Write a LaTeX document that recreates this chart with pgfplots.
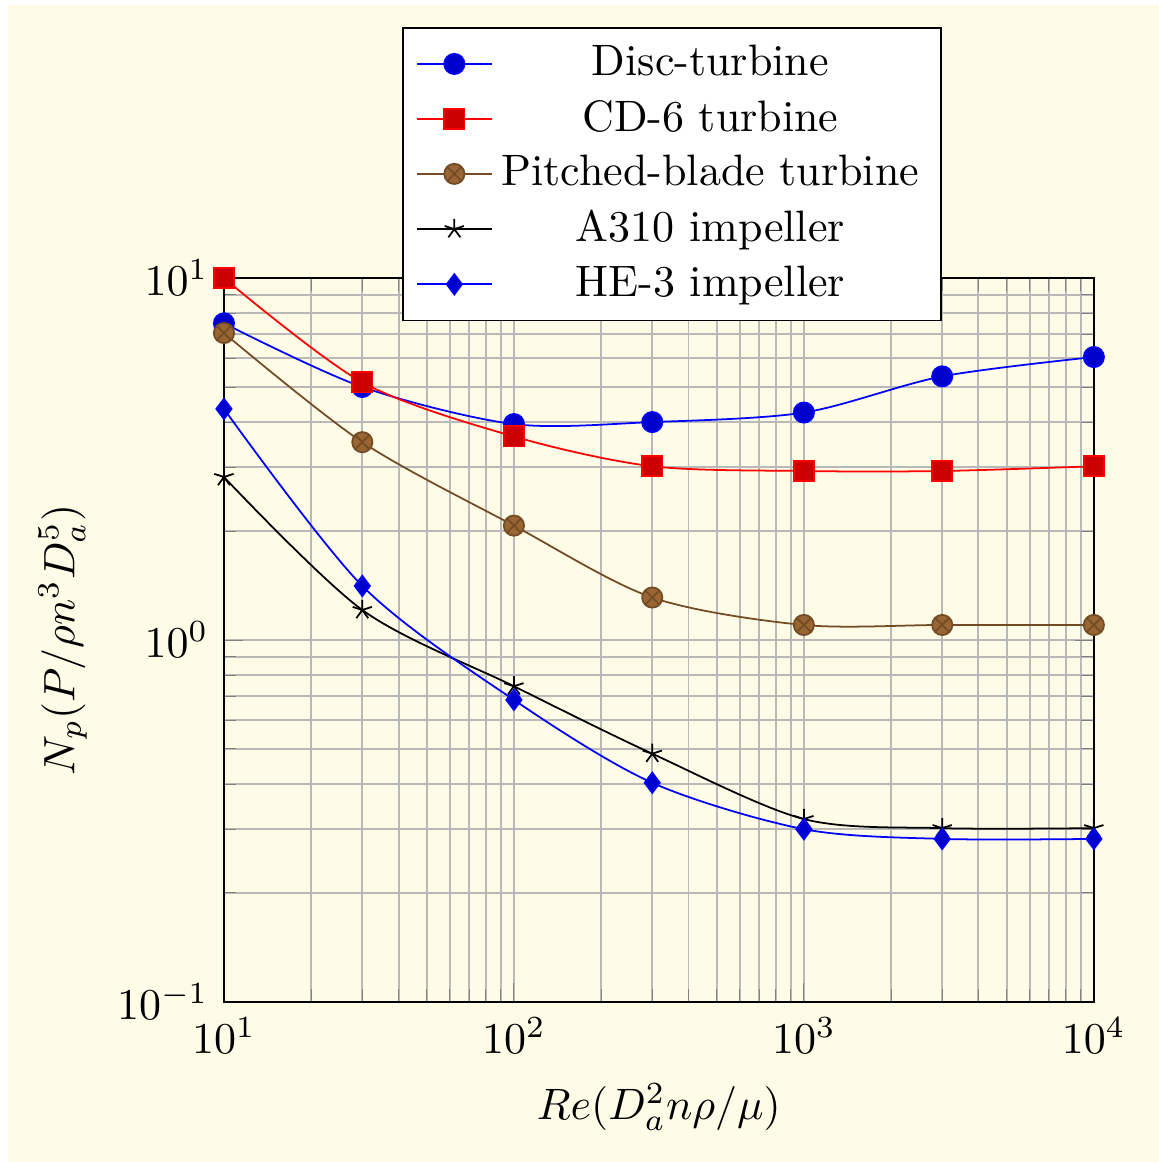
\documentclass[border=0pt]{standalone}
\usepackage{pgfplots}
\pgfplotsset{compat=1.18}
\usetikzlibrary{backgrounds}
\definecolor{bgyellow}{RGB}{254,251,231}
\begin{document}
\begin{tikzpicture}
\begin{loglogaxis}[
    scale only axis,
    width=197.7pt, height=164.5pt,
    xmin=10, xmax=10000,
    ymin=0.1, ymax=10,
    grid=both,
    major grid style={gray!55, line width=0.45pt},
    minor grid style={gray!55, line width=0.45pt},
    xlabel={$Re(D_a^2n\rho/\mu)$},
    ylabel={$N_p(P/\rho n^3D_a^5)$},
    every axis plot/.append style={smooth, mark size=2.3pt},
    legend cell align=center,
    legend style={at={(0.515,1.347)}, anchor=north, fill=white, draw=black},
]
\addplot+[mark=*] coordinates {(10,7.5) (30,5) (100,3.95) (300,4) (1000,4.25) (3000,5.35) (10000,6.05)};
\addlegendentry{Disc-turbine}
\addplot+[mark=square*] coordinates {(10,10) (30,5.15) (100,3.65) (300,3.02) (1000,2.93) (3000,2.93) (10000,3.02)};
\addlegendentry{CD-6 turbine}
\addplot+ coordinates {(10,7.05) (30,3.52) (100,2.07) (300,1.31) (1000,1.1) (3000,1.1) (10000,1.1)};
\addlegendentry{Pitched-blade turbine}
\addplot+ coordinates {(10,2.82) (30,1.21) (100,0.745) (300,0.485) (1000,0.32) (3000,0.302) (10000,0.302)};
\addlegendentry{A310 impeller}
\addplot+ coordinates {(10,4.35) (30,1.41) (100,0.683) (300,0.403) (1000,0.3) (3000,0.282) (10000,0.282)};
\addlegendentry{HE-3 impeller}
\end{loglogaxis}
\begin{scope}[on background layer]
\fill[white] (-50.9pt,-36.4pt) rectangle (212.5pt,227.7pt);
\fill[bgyellow] (-49.1pt,-36.4pt) rectangle (212.5pt,226.6pt);
\end{scope}
\end{tikzpicture}
\end{document}
